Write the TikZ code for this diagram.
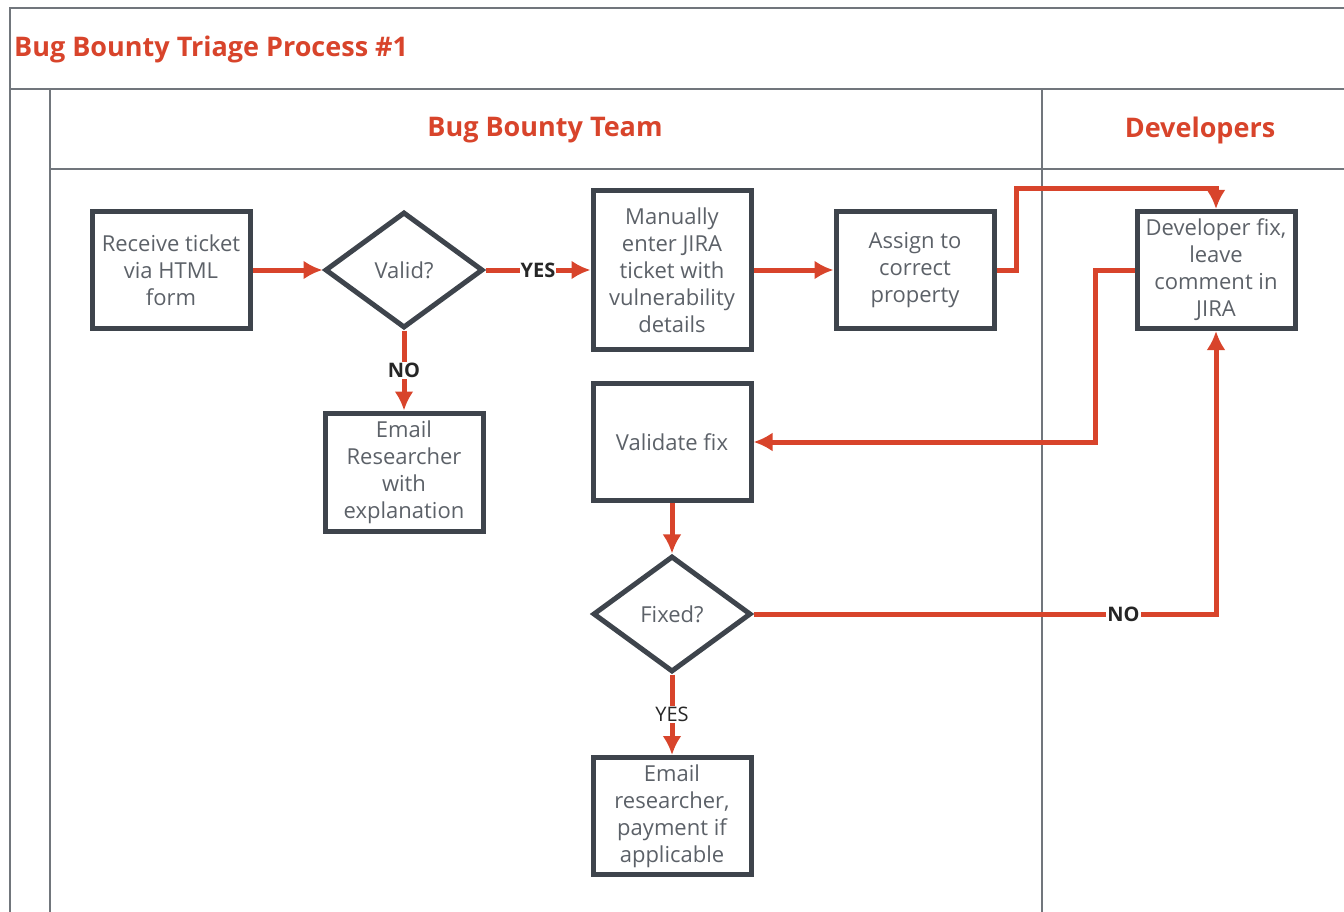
\documentclass[tikz,border=0pt]{standalone}
\usepackage{fontspec}
\setmainfont{Open Sans}
\usepackage{tikz}
\usetikzlibrary{shapes.geometric, arrows.meta}
\definecolor{bbred}{HTML}{D8442B}
\definecolor{boxgray}{HTML}{3E444C}
\definecolor{txtgray}{HTML}{5C6168}
\definecolor{lanegray}{HTML}{71767C}

\begin{document}
\begin{tikzpicture}[x=1pt,y=-1pt,
    stepbox/.style={draw=boxgray, line width=5, rectangle, minimum width=158, minimum height=117, align=center, text=txtgray, font=\fontsize{22}{27}\selectfont, inner sep=1},
    choice/.style={draw=boxgray, line width=5, diamond, aspect=1.3, minimum width=158, minimum height=116, text=txtgray, font=\fontsize{22}{27}\selectfont, inner sep=1},
    flow/.style={->, >={Latex[length=19pt,width=19pt]}, draw=bbred, line width=5},
    lane/.style={draw=lanegray, line width=2},
    answer/.style={fill=white, text=black!85, inner sep=1, font=\bfseries\fontsize{20}{24}\selectfont},
    heading/.style={text=bbred, inner sep=0, font=\bfseries\fontsize{27}{30}\selectfont}]
  \useasboundingbox (0,0) rectangle (1344,912);
      \draw[lane] (10,912) -- (10,8) -- (1344,8);
      \draw[lane] (10,89) -- (1344,89);
      \draw[lane] (50,89) -- (50,912);
      \draw[lane] (50,169) -- (1344,169);
      \draw[lane] (1042,89) -- (1042,912);
    \node[heading, anchor=west](title) at (14,49) {Bug Bounty Triage Process \#1};
    \node[heading](teamhead) at (545,130) {Bug Bounty Team};
    \node[heading](devhead) at (1200,130) {Developers};
           \node[stepbox](receive) at (171,270) {Receive ticket\\via HTML\\form};
           \node[choice](valid) at (404,270) {Valid?};
           \node[stepbox, minimum height=158](manual) at (672,270) {Manually\\enter JIRA\\ticket with\\vulnerability\\details};
           \node[stepbox](assign) at (915,270) {Assign to\\correct\\property};
           \node[stepbox](devfix) at (1216,270) {Developer fix,\\leave\\comment in\\JIRA};
           \node[stepbox, minimum height=118](emailno) at (404,472) {Email\\Researcher\\with\\explanation};
           \node[stepbox](validate) at (672,442) {Validate fix};
           \node[choice](fixed) at (672,614) {Fixed?};
           \node[stepbox](emailpay) at (672,816) {Email\\researcher,\\payment if\\applicable};
      \draw[flow] (receive) -- (valid);
      \draw[flow] (valid) -- node[answer]{YES} (manual);
      \draw[flow] (valid) -- node[answer]{NO} (emailno);
      \draw[flow] (manual) -- (assign);
      \draw[flow] (assign.east) -- ++(20,0) |- (devfix.north |- manual.north) -- (devfix.north);
      \draw[flow] (devfix.west) -- ++(-39,0) |- (validate.east);
      \draw[flow] (validate) -- (fixed);
      \draw[flow] (fixed.east) -| node[answer, pos=0.4]{NO} (devfix.south);
      \draw[flow] (fixed) -- node[answer, font=\fontsize{20}{24}\selectfont]{YES} (emailpay);
          \end{tikzpicture}
\end{document}
